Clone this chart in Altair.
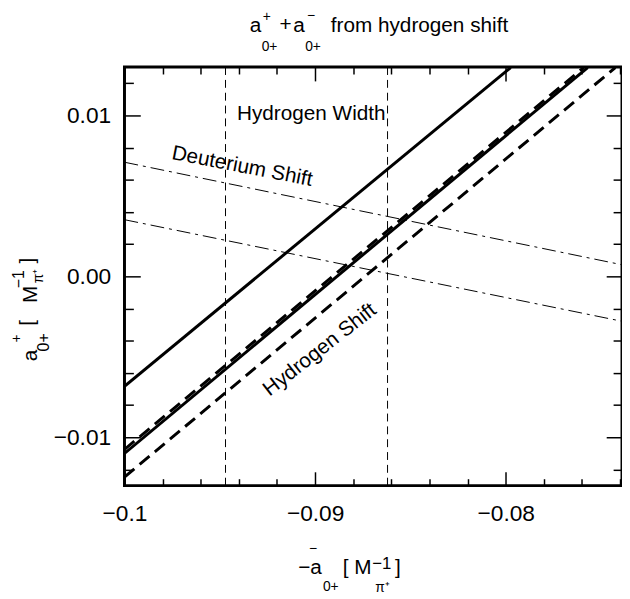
import altair as alt
import pandas as pd

FONT = "Liberation Sans"

X_DOMAIN = [-0.1, -0.0739]
Y_DOMAIN = [-0.013, 0.013]

x_major = [-0.1, -0.09, -0.08]
x_minor = [-0.098, -0.096, -0.094, -0.092, -0.088, -0.086, -0.084, -0.082,
           -0.078, -0.076, -0.074]
y_major = [-0.01, 0.0, 0.01]
y_minor = [-0.012, -0.008, -0.006, -0.004, -0.002, 0.002, 0.004, 0.006,
           0.008, 0.012]

# thick solid lines
solid_id = ["s1", "s1", "s2", "s2"]
solid_x = [-0.1, -0.07974, -0.1, -0.0757]
solid_y = [-0.00683, 0.01297, -0.0110, 0.01297]

# thick dashed lines
dash_id = ["d1", "d1", "d2", "d2"]
dash_x = [-0.1, -0.07591, -0.1, -0.07425]
dash_y = [-0.01075, 0.01297, -0.01247, 0.01297]

# thin dash-dot lines (deuterium shift)
dd_id = ["u", "u", "l", "l"]
dd_x = [-0.1, -0.0739, -0.1, -0.0739]
dd_y = [0.00709, 0.00072, 0.00352, -0.00279]

# thin dashed vertical lines (hydrogen width)
v_id = ["a", "a", "b", "b"]
v_x = [-0.0947, -0.0947, -0.0862, -0.0862]
v_y = [-0.013, 0.013, -0.013, 0.013]

xs = alt.Scale(domain=X_DOMAIN, nice=False, zero=False)
ys = alt.Scale(domain=Y_DOMAIN, nice=False, zero=False)


def axis(orient, values, size, labels, fmt, pad):
    kw = dict(orient=orient, values=values, tickSize=size, offset=-size,
              domain=False, grid=False, labels=labels, title=None,
              tickColor="black", tickWidth=1.5)
    if labels:
        kw.update(labelFont=FONT, labelFontSize=23, labelColor="black",
                  labelPadding=pad, labelFlush=False, format=fmt,
                  labelOverlap=False)
    return alt.Axis(**kw)


def lines(ids, xv, yv, xa, ya, **mark):
    df = pd.DataFrame({"id": ids, "x": xv, "y": yv})
    return alt.Chart(df).mark_line(clip=True, color="black", **mark).encode(
        x=alt.X("x:Q", scale=xs, axis=xa),
        y=alt.Y("y:Q", scale=ys, axis=ya),
        detail="id:N",
    )


one = pd.DataFrame({"k": [0]})


def txt(s, x, y, size=21, angle=0):
    return alt.Chart(one).mark_text(
        text=s, font=FONT, fontSize=size, color="black", align="left",
        baseline="alphabetic", angle=angle % 360
    ).encode(x=alt.value(x), y=alt.value(y))


l_solid = lines(solid_id, solid_x, solid_y,
                axis("bottom", x_major, 14, True, "~g", 17),
                axis("left", y_major, 16, True, ".2f", 14),
                strokeWidth=3)
l_dash = lines(dash_id, dash_x, dash_y,
               axis("bottom", x_minor, 7, False, "", 0),
               axis("left", y_minor, 9, False, "", 0),
               strokeWidth=3, strokeDash=[13, 7])
l_dd = lines(dd_id, dd_x, dd_y,
             axis("top", x_major, 14, False, "", 0),
             axis("right", y_major, 16, False, "", 0),
             strokeWidth=1, strokeDash=[14, 5, 3, 5])
l_v = lines(v_id, v_x, v_y,
            axis("top", x_minor, 7, False, "", 0),
            axis("right", y_minor, 9, False, "", 0),
            strokeWidth=1, strokeDash=[8, 5])

texts = [
    # title
    txt("a", 127, -36), txt("+", 140, -47, 14), txt("0+", 139, -16, 14),
    txt("+", 157, -37), txt("a", 171, -36), txt("\u2212", 185, -48, 14),
    txt("0+", 183, -16, 14), txt("from hydrogen shift", 209, -36),
    # x title
    txt("\u2212a", 176, 514), txt("\u2212", 187, 492, 14),
    txt("0+", 201, 531, 14), txt("[ M", 221, 514),
    txt("\u22121", 251, 508, 17), txt("\u03c0\u207a", 254, 532, 14),
    txt("]", 274, 514),
    # y title (rotated)
    txt("a", -89, 298, 21, -90), txt("+", -105, 279, 14, -90),
    txt("0+", -76, 288, 16, -90), txt("[", -92, 262, 21, -90),
    txt("M", -89, 239, 21, -90), txt("\u22121", -102, 224, 16, -90),
    txt("\u03c0\u207a", -83, 219, 14, -90), txt("]", -92, 199, 21, -90),
    # annotations
    txt("Hydrogen Width", 114, 54),
    txt("Deuterium Shift", 47, 93, 21, 11),
    txt("Hydrogen Shift", 147, 334, 21, -38),
]

chart = alt.layer(l_v, l_dd, l_dash, l_solid, *texts).resolve_axis(
    x="independent", y="independent"
).properties(
    width=504, height=424,
    padding={"left": 118, "top": 56, "right": 0, "bottom": 111},
    autosize=alt.AutoSizeParams(type="none"),
).configure_view(stroke="black", strokeWidth=3)

chart.save("out.html", embed_options={"renderer": "svg", "actions": False})
